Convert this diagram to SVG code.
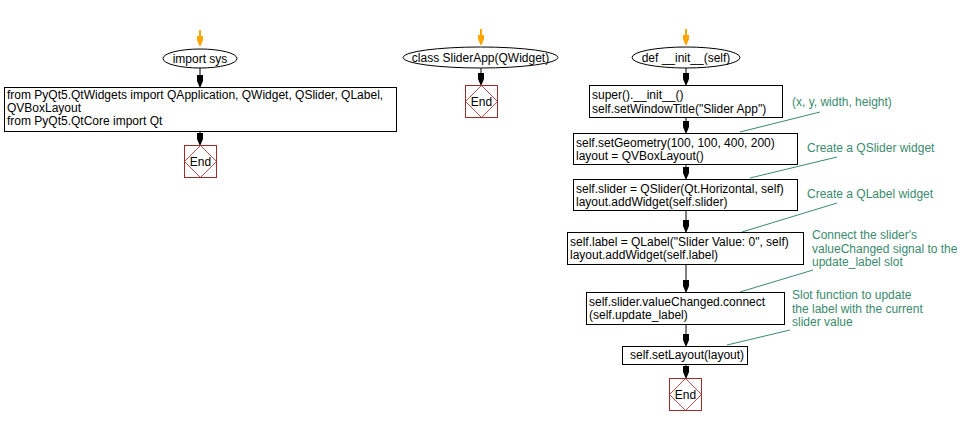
<svg xmlns="http://www.w3.org/2000/svg" width="974" height="425" viewBox="0 0 974 425">
<style>
text{font-family:"Liberation Sans",Arial,sans-serif;font-size:12px;fill:#000}
.c{fill:#3a8a6e}
.m{text-anchor:middle}
.box{fill:#fff;stroke:#000;stroke-width:1}
.ell{fill:#fff;stroke:#000;stroke-width:1}
.endr{fill:#fff;stroke:#9b2d2d;stroke-width:1}
.endd{fill:none;stroke:#b22222;stroke-width:0.8}
.ln{stroke:#000;stroke-width:1;fill:none}
.cl{stroke:#3a8a6e;stroke-width:1;fill:none}
</style>
<defs>
<path id="arr" d="M-3,-12 L3,-12 L3,-6 L0.5,0 L-0.5,0 L-3,-6 Z"/>
<path id="oarr" d="M-1,-16 L1,-16 L1,-10 L3,-10 L3,-6 L0.5,0 L-0.5,0 L-3,-6 L-3,-10 L-1,-10 Z"/>
</defs>
<rect width="974" height="425" fill="#fff"/>

<g id="connectors">
<use href="#oarr" x="200" y="46" fill="#ffa500"/>
<use href="#oarr" x="481" y="45" fill="#ffa500"/>
<use href="#oarr" x="686" y="45" fill="#ffa500"/>
<line class="ln" x1="200" y1="68" x2="200" y2="85"/><use href="#arr" x="200" y="87"/>
<line class="ln" x1="200" y1="131" x2="200" y2="143"/><use href="#arr" x="200" y="145"/>
<line class="ln" x1="481" y1="68" x2="481" y2="83"/><use href="#arr" x="481" y="85"/>
<line class="ln" x1="686" y1="68" x2="686" y2="83"/><use href="#arr" x="686" y="85"/>
<line class="ln" x1="686" y1="117" x2="686" y2="131"/><use href="#arr" x="686" y="133"/>
<line class="ln" x1="686" y1="164" x2="686" y2="177"/><use href="#arr" x="686" y="179"/>
<line class="ln" x1="686" y1="210" x2="686" y2="230"/><use href="#arr" x="686" y="232"/>
<line class="ln" x1="686" y1="264" x2="686" y2="290"/><use href="#arr" x="686" y="292"/>
<line class="ln" x1="686" y1="324" x2="686" y2="344"/><use href="#arr" x="686" y="346"/>
<line class="ln" x1="686" y1="364" x2="686" y2="376"/><use href="#arr" x="686" y="378"/>
<line class="cl" x1="740" y1="132" x2="820" y2="112"/>
<line class="cl" x1="750" y1="178" x2="837" y2="157"/>
<line class="cl" x1="742" y1="232" x2="837" y2="203"/>
<line class="cl" x1="740" y1="292" x2="813" y2="270"/>
<line class="cl" x1="727" y1="345" x2="790" y2="330"/>
</g>

<g id="n1"><ellipse class="ell" cx="200" cy="58.5" rx="37" ry="9.5"/><text class="m" x="200" y="62.5">import sys</text></g>
<g id="n2"><rect class="box" x="4.5" y="87.5" width="392" height="44"/>
<text x="7" y="99">from PyQt5.QtWidgets import QApplication, QWidget, QSlider, QLabel,</text>
<text x="7" y="112">QVBoxLayout</text>
<text x="7" y="125">from PyQt5.QtCore import Qt</text></g>
<g id="n3"><rect class="endr" x="184.5" y="145.5" width="32" height="32"/><path class="endd" d="M200.5,145.5 L216.5,161.5 L200.5,177.5 L184.5,161.5 Z"/><text class="m" x="200.5" y="166">End</text></g>

<g id="n4"><ellipse class="ell" cx="480.5" cy="57.5" rx="77.5" ry="10.5"/><text class="m" x="480.5" y="61.5">class SliderApp(QWidget)</text></g>
<g id="n5"><rect class="endr" x="465.5" y="85.5" width="32" height="32"/><path class="endd" d="M481.5,85.5 L497.5,101.5 L481.5,117.5 L465.5,101.5 Z"/><text class="m" x="481.5" y="106">End</text></g>

<g id="n6"><ellipse class="ell" cx="686" cy="57.5" rx="54" ry="10.5"/><text class="m" x="686" y="61.5">def __init__(self)</text></g>
<g id="n7"><rect class="box" x="589.5" y="85.5" width="193" height="32"/>
<text x="592" y="99">super().__init__()</text>
<text x="592" y="113">self.setWindowTitle("Slider App")</text></g>
<g id="n8"><rect class="box" x="573.5" y="133.5" width="224" height="31"/>
<text x="576" y="147">self.setGeometry(100, 100, 400, 200)</text>
<text x="576" y="160">layout = QVBoxLayout()</text></g>
<g id="n9"><rect class="box" x="573.5" y="179.5" width="224" height="31"/>
<text x="576" y="193">self.slider = QSlider(Qt.Horizontal, self)</text>
<text x="576" y="206">layout.addWidget(self.slider)</text></g>
<g id="n10"><rect class="box" x="567.5" y="232.5" width="236" height="32"/>
<text x="570" y="246">self.label = QLabel("Slider Value: 0", self)</text>
<text x="570" y="259">layout.addWidget(self.label)</text></g>
<g id="n11"><rect class="box" x="586.5" y="292.5" width="198" height="32"/>
<text x="589" y="306">self.slider.valueChanged.connect</text>
<text x="589" y="319">(self.update_label)</text></g>
<g id="n12"><rect class="box" x="622.5" y="346.5" width="125" height="18"/>
<text x="630" y="359">self.setLayout(layout)</text></g>
<g id="n13"><rect class="endr" x="669.5" y="378.5" width="32" height="32"/><path class="endd" d="M685.5,378.5 L701.5,394.5 L685.5,410.5 L669.5,394.5 Z"/><text class="m" x="685.5" y="399">End</text></g>

<g id="comments">
<text class="c" x="792" y="106">(x, y, width, height)</text>
<text class="c" x="807" y="152">Create a QSlider widget</text>
<text class="c" x="807" y="198">Create a QLabel widget</text>
<text class="c" x="812" y="239">Connect the slider's</text>
<text class="c" x="812" y="253">valueChanged signal to the</text>
<text class="c" x="812" y="266">update_label slot</text>
<text class="c" x="792" y="299">Slot function to update</text>
<text class="c" x="792" y="313">the label with the current</text>
<text class="c" x="792" y="326">slider value</text>
</g>
</svg>
